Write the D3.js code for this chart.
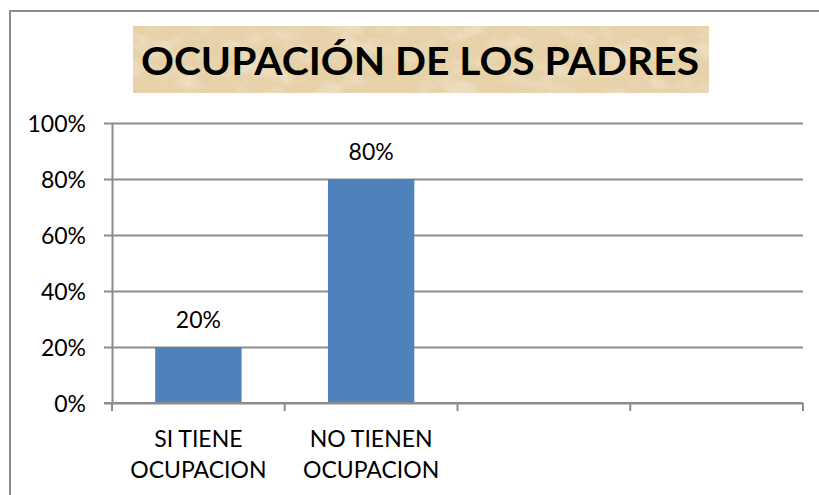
<!DOCTYPE html>
<html>
<head>
<meta charset="utf-8">
<script src="https://cdn.jsdelivr.net/npm/d3@7"></script>
<style>
  body { margin: 0; background: #fff; }
  text { font-family: Lato, "Open Sans", sans-serif; fill: #000; }
</style>
</head>
<body>
<div id="chart"></div>
<script>
var categories = ['SI TIENE|OCUPACION', 'NO TIENEN|OCUPACION', '', ''];
var values = [0.2, 0.8, null, null];
var valueLabels = ['20%', '80%', '', ''];
var yTicks = [0, 0.2, 0.4, 0.6, 0.8, 1];
var title = 'OCUPACIÓN DE LOS PADRES';

var W = 819, H = 495;
var plotL = 112, plotR = 803, plotT = 123, plotB = 403;

var svg = d3.select('#chart').append('svg')
  .attr('width', W)
  .attr('height', H);

// parchment texture for the title box
var defs = svg.append('defs');
var f = defs.append('filter').attr('id', 'paper')
  .attr('x', 0).attr('y', 0).attr('width', 1).attr('height', 1);
f.append('feTurbulence')
  .attr('type', 'fractalNoise')
  .attr('baseFrequency', '0.03 0.05')
  .attr('numOctaves', 4)
  .attr('seed', 7)
  .attr('result', 'noise');
f.append('feColorMatrix')
  .attr('in', 'noise')
  .attr('type', 'matrix')
  .attr('values', '0 0 0 0 0.96  0 0 0 0 0.91  0 0 0 0 0.81  1.0 0 0 0 -0.45')
  .attr('result', 'spots');
f.append('feComposite')
  .attr('in', 'spots')
  .attr('in2', 'SourceGraphic')
  .attr('operator', 'atop');

// outer frame
svg.append('path')
  .attr('d', 'M10,' + H + 'V11H' + W)
  .attr('fill', 'none')
  .attr('stroke', '#8c8c8c')
  .attr('stroke-width', 2);

// title
svg.append('rect')
  .attr('x', 133).attr('y', 26)
  .attr('width', 576).attr('height', 67)
  .attr('fill', '#e6d1a8')
  .attr('filter', 'url(#paper)');
svg.append('text')
  .attr('x', 420)
  .attr('y', 75)
  .attr('text-anchor', 'middle')
  .attr('font-weight', 700)
  .attr('font-size', 39)
  .attr('textLength', 558)
  .attr('lengthAdjust', 'spacingAndGlyphs')
  .text(title);

var x = d3.scaleBand()
  .domain(d3.range(categories.length))
  .range([plotL, plotR])
  .paddingInner(0.5)
  .paddingOuter(0.25);

var y = d3.scaleLinear()
  .domain([0, 1])
  .range([plotB, plotT]);

// gridlines
var grid = svg.append('g')
  .attr('transform', 'translate(' + plotL + ',0)')
  .call(d3.axisLeft(y).tickValues(yTicks).tickSize(-(plotR - plotL)).tickFormat(''));
grid.select('.domain').remove();
grid.selectAll('line').attr('stroke', '#8c8c8c').attr('stroke-width', 2);

// y axis
var yAxis = svg.append('g')
  .attr('transform', 'translate(' + plotL + ',0)')
  .call(d3.axisLeft(y).tickValues(yTicks).tickSize(8).tickSizeOuter(0).tickPadding(18)
    .tickFormat(d3.format('.0%')));
yAxis.select('.domain').attr('stroke', '#8c8c8c').attr('stroke-width', 2);
yAxis.selectAll('line').attr('stroke', '#8c8c8c').attr('stroke-width', 2);
yAxis.selectAll('text')
  .attr('font-size', 23)
  .attr('font-family', 'Lato, sans-serif')
  .attr('fill', '#000')
  .attr('dy', '0.36em');

// bars
svg.append('g').selectAll('rect')
  .data(values)
  .join('rect')
  .filter(function (d) { return d !== null; })
  .attr('x', function (d, i) { return x(i); })
  .attr('y', function (d) { return y(d); })
  .attr('width', x.bandwidth())
  .attr('height', function (d) { return y(0) - y(d); })
  .attr('fill', '#4f81bd');

// value labels
svg.append('g').selectAll('text')
  .data(values)
  .join('text')
  .filter(function (d) { return d !== null; })
  .attr('x', function (d, i) { return x(i) + x.bandwidth() / 2; })
  .attr('y', function (d) { return y(d) - 19; })
  .attr('text-anchor', 'middle')
  .attr('font-size', 23)
  .text(function (d, i) { return valueLabels[i]; });

// x axis
var step = x.step();
var bounds = d3.range(categories.length + 1).map(function (i) {
  return i < categories.length ? x(i) - step * 0.25 : x(i - 1) + x.bandwidth() + step * 0.25;
});
svg.append('line')
  .attr('x1', plotL - 8).attr('x2', plotR)
  .attr('y1', y(0)).attr('y2', y(0))
  .attr('stroke', '#8c8c8c').attr('stroke-width', 2);
svg.append('g').selectAll('line')
  .data(bounds)
  .join('line')
  .attr('x1', function (d) { return d; })
  .attr('x2', function (d) { return d; })
  .attr('y1', y(0))
  .attr('y2', y(0) + 8)
  .attr('stroke', '#8c8c8c')
  .attr('stroke-width', 2);

var catText = svg.append('g').selectAll('text')
  .data(categories)
  .join('text')
  .attr('text-anchor', 'middle')
  .attr('font-size', 23);
catText.selectAll('tspan')
  .data(function (d, i) {
    return d ? d.split('|').map(function (s) { return { s: s, i: i }; }) : [];
  })
  .join('tspan')
  .attr('x', function (d) { return x(d.i) + x.bandwidth() / 2; })
  .attr('y', function (d, j) { return 447 + j * 31; })
  .text(function (d) { return d.s; });
</script>
</body>
</html>
